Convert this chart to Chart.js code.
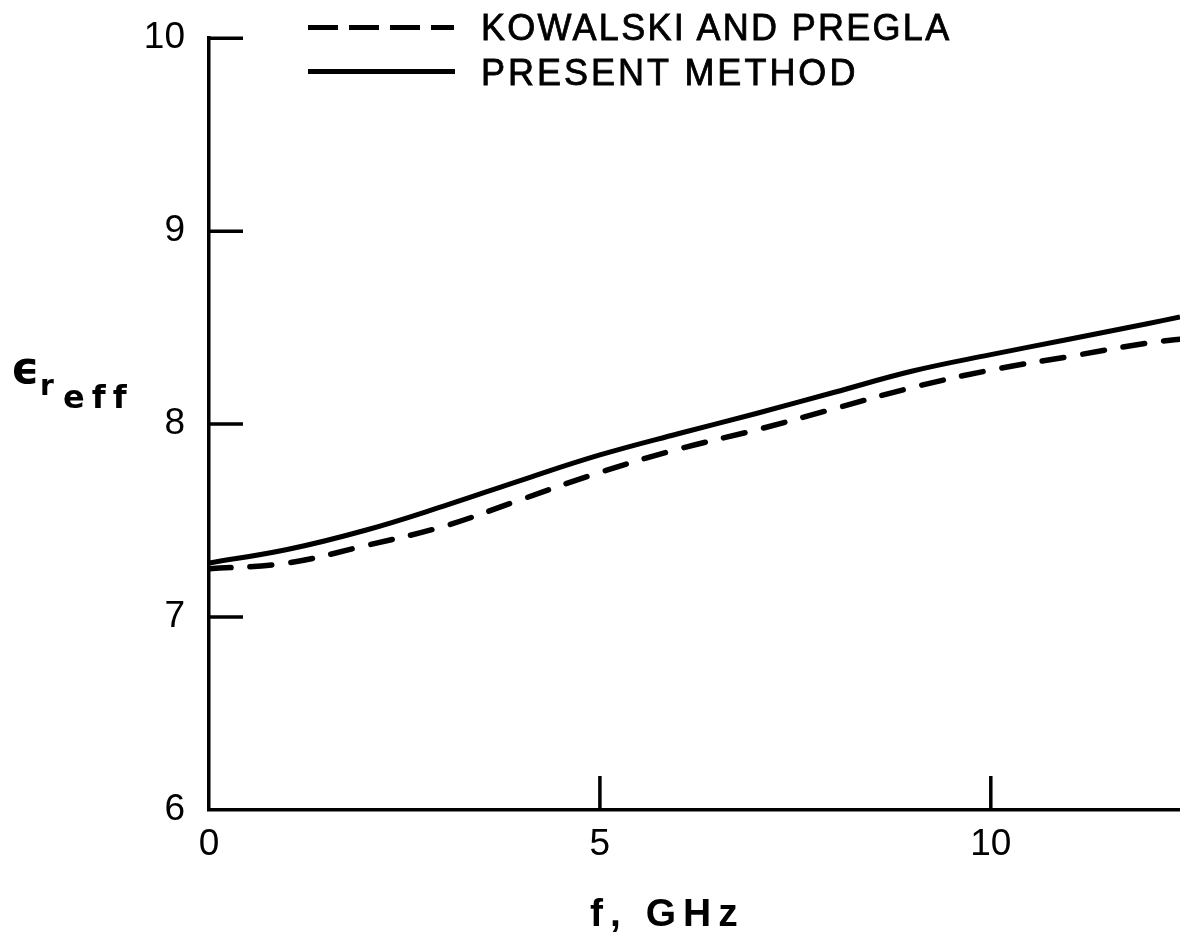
<!DOCTYPE html>
<html>
<head>
<meta charset="utf-8">
<script src="https://cdn.jsdelivr.net/npm/chart.js@4/dist/chart.umd.min.js"></script>
<style>
  html, body { margin: 0; padding: 0; background: #fff; }
  #wrap { position: relative; width: 1180px; height: 942px; overflow: hidden; }
  #chart { position: absolute; left: 0; top: 0; }
  .txt { position: absolute; color: #000; line-height: 1; white-space: pre; }
  .leg { font-family: "Liberation Sans", Arial, sans-serif; font-size: 36px; letter-spacing: 3px;
         -webkit-text-stroke: 0.8px #000; }
  .swatch { position: absolute; height: 5px; }
</style>
</head>
<body>
<div id="wrap">
  <canvas id="chart" width="1180" height="942"></canvas>

  <div class="swatch" style="left:308px; top:25px; width:146px;
       background: repeating-linear-gradient(to right, #000 0 30px, transparent 30px 41px);"></div>
  <div class="txt leg" style="left:481px; top:10px; letter-spacing:2.3px;">KOWALSKI AND PREGLA</div>
  <div class="swatch" style="left:308px; top:69px; width:147px; height:4.5px; background:#000;"></div>
  <div class="txt leg" style="left:481px; top:55px;">PRESENT METHOD</div>

  <div class="txt" style="left:11px; top:346px; font-family:'DejaVu Sans'; font-weight:bold; font-size:44px;">ϵ</div>
  <div class="txt" style="left:40px; top:372px; font-family:'DejaVu Sans'; font-weight:bold; font-size:28px;">r</div>
  <div class="txt" style="left:63px; top:381px; font-family:'DejaVu Sans'; font-weight:bold; font-size:32px; letter-spacing:7px;">eff</div>

  <div class="txt" style="left:590px; top:893px; font-family:'Liberation Sans'; font-weight:bold; font-size:39px; letter-spacing:7px;">f, GHz</div>
</div>

<script>
"use strict";

// frequency, GHz
const freq = [0, 1, 2, 3, 4, 5, 6, 7, 8, 9, 10, 11, 12, 12.42];
// effective dielectric constant
const kowalskiPregla = [7.25, 7.28, 7.37, 7.47, 7.61, 7.75, 7.87, 7.97, 8.08, 8.19, 8.28, 8.35, 8.42, 8.44];
const presentMethod  = [7.28, 7.35, 7.45, 7.575, 7.71, 7.84, 7.95, 8.055, 8.165, 8.275, 8.36, 8.44, 8.52, 8.555];

const xTicks = [0, 5, 10];
const yTicks = [6, 7, 8, 9, 10];
const xInnerTicks = [5, 10];
const yInnerTicks = [7, 8, 9, 10];

function toPoints(xs, ys) {
    return xs.map((x, i) => ({ x: x, y: ys[i] }));
}

// short tick marks drawn inside the plot, like the original figure
const innerTicks = {
    id: "innerTicks",
    afterDatasetsDraw(chart) {
        const ctx = chart.ctx;
        const x = chart.scales.x;
        const y = chart.scales.y;
        const len = 34;
        ctx.save();
        ctx.strokeStyle = "#000";
        ctx.lineWidth = 3.5;
        ctx.beginPath();
        yInnerTicks.forEach(v => {
            const py = y.getPixelForValue(v);
            ctx.moveTo(x.left, py);
            ctx.lineTo(x.left + len, py);
        });
        xInnerTicks.forEach(v => {
            const px = x.getPixelForValue(v);
            ctx.moveTo(px, y.bottom);
            ctx.lineTo(px, y.bottom - len);
        });
        ctx.stroke();
        ctx.restore();
    }
};

const tickFont = { family: "Liberation Sans", size: 37 };

new Chart(document.getElementById("chart"), {
    type: "line",
    data: {
        datasets: [
            {
                label: "KOWALSKI AND PREGLA",
                data: toPoints(freq, kowalskiPregla),
                borderColor: "#000",
                borderWidth: 5.5,
                borderDash: [22, 19],
                borderCapStyle: "round",
                pointRadius: 0,
                tension: 0.4
            },
            {
                label: "PRESENT METHOD",
                data: toPoints(freq, presentMethod),
                borderColor: "#000",
                borderWidth: 5,
                pointRadius: 0,
                tension: 0.4
            }
        ]
    },
    options: {
        responsive: false,
        animation: false,
        layout: { padding: { top: 28, right: 0, left: 0, bottom: 0 } },
        plugins: {
            legend: { display: false },
            tooltip: { enabled: false }
        },
        scales: {
            x: {
                type: "linear",
                min: 0,
                max: 12.42,
                afterFit: s => { s.height = 132; },
                afterBuildTicks: s => { s.ticks = xTicks.map(v => ({ value: v })); },
                grid: { display: false },
                border: { color: "#000", width: 3.5 },
                ticks: { color: "#000", font: tickFont, padding: 5, maxRotation: 0 }
            },
            y: {
                type: "linear",
                min: 6,
                max: 10,
                afterFit: s => { s.width = 209; },
                afterBuildTicks: s => { s.ticks = yTicks.map(v => ({ value: v })); },
                grid: { display: false },
                border: { color: "#000", width: 3.5 },
                ticks: { color: "#000", font: tickFont, padding: 16 }
            }
        }
    },
    plugins: [innerTicks]
});
</script>
</body>
</html>
